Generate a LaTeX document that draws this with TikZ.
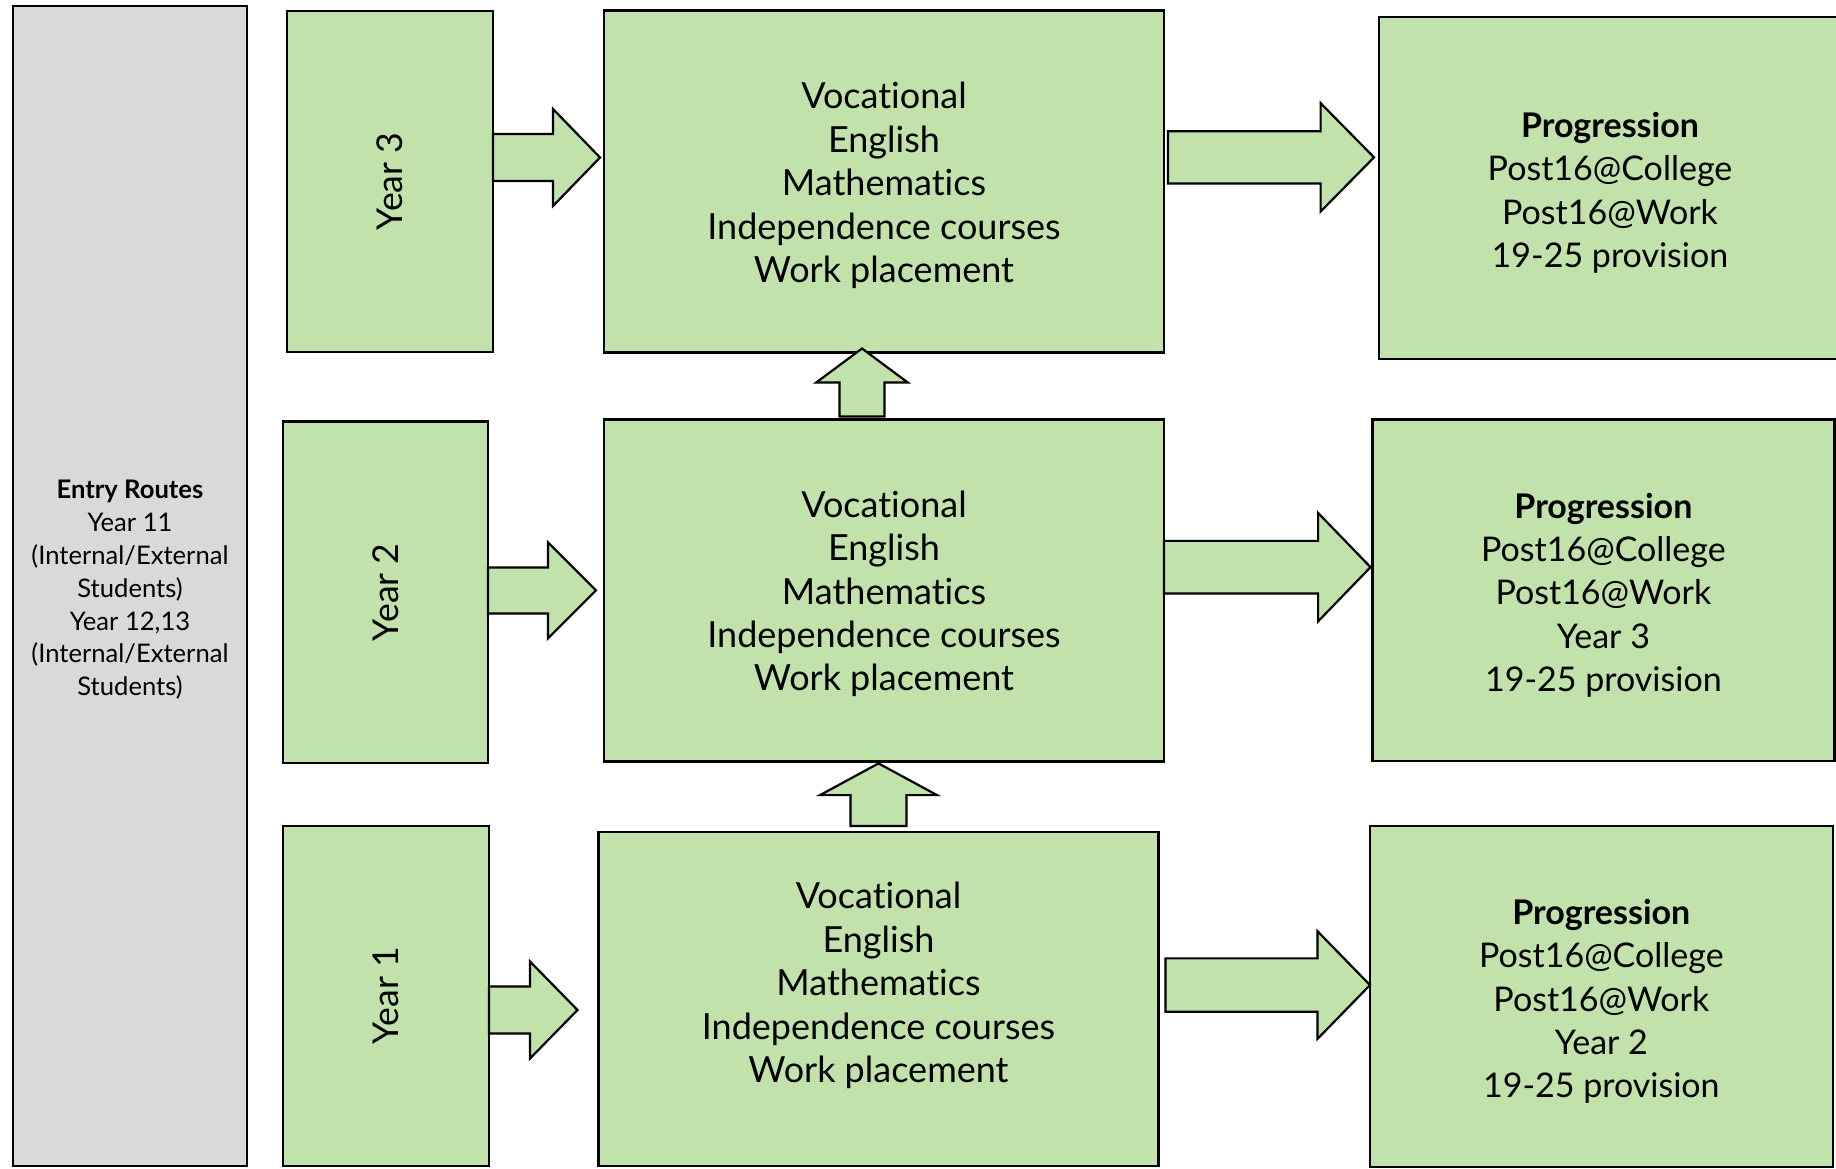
\documentclass[tikz,border=0pt]{standalone}
\usepackage{fontspec}
\setmainfont{Lato}[Ligatures={NoCommon}]
\usepackage{graphicx}
\usetikzlibrary{calc}
\definecolor{boxgreen}{RGB}{193,226,170}
\definecolor{boxgray}{RGB}{217,217,217}
\newcommand{\harrow}[5]{\draw[blk] ($#1+(0,-#3)$) -- ($#2+(-#5,-#3)$) -- ($#2+(-#5,-#4)$) -- #2 -- ($#2+(-#5,#4)$) -- ($#2+(-#5,#3)$) -- ($#1+(0,#3)$) -- cycle;}
\newcommand{\varrow}[5]{\draw[blk] ($#1+(-#3,0)$) -- ($#2+(-#3,#5)$) -- ($#2+(-#4,#5)$) -- #2 -- ($#2+(#4,#5)$) -- ($#2+(#3,#5)$) -- ($#1+(#3,0)$) -- cycle;}
\begin{document}
\begin{tikzpicture}[x=0.5pt,y=-0.5pt,
  gbox/.style={draw=black,line width=1.2pt,fill=boxgreen,inner sep=0pt,outer sep=0pt,align=center},
  ebox/.style={gbox,fill=boxgray},
  blk/.style={draw=black,line width=1.1pt,fill=boxgreen,line join=miter},
  plain/.style={inner sep=0pt,outer sep=0pt,align=center},
  midtext/.style={plain,font=\fontsize{18}{21.7}\selectfont},
  progtext/.style={plain,font=\fontsize{17}{21.7}\selectfont},
  yeartext/.style={font=\fontsize{17.8}{20}\selectfont},
  entrytext/.style={plain,font=\fontsize{12.8}{16.4}\selectfont}]
\useasboundingbox (0,0) rectangle (1836,1168);

% entry routes
\node[ebox,minimum width=117pt,minimum height=580pt] (entry) at (130,586) {};
\node[entrytext] (entryt) at ($(entry.center)+(0,4)$)
  {\textbf{Entry Routes}\\Year 11\\(Internal/External\\Students)\\Year 12,13\\(Internal/External\\Students)};

% year boxes
\node[gbox,yeartext,minimum width=103pt,minimum height=170.5pt] (Y3) at (390,181.5) {\rotatebox{90}{Year 3}};
\node[gbox,yeartext,minimum width=102.5pt,minimum height=170.75pt] (Y2) at (385.5,592.25) {\rotatebox{90}{Year 2}};
\node[gbox,yeartext,minimum width=103pt,minimum height=170pt] (Y1) at (386,996) {\rotatebox{90}{Year 1}};

% middle boxes
\node[gbox,minimum width=280pt,minimum height=171pt] (M3) at (884,181.5) {};
\node[midtext] (M3t) at ($(M3.center)+(0,4)$)
  {Vocational\\English\\Mathematics\\Independence courses\\Work placement};
\node[gbox,minimum width=280pt,minimum height=171pt] (M2) at (884,590.4) {};
\node[midtext] (M2t) at ($(M2.center)+(0,3.5)$)
  {Vocational\\English\\Mathematics\\Independence courses\\Work placement};
\node[gbox,minimum width=280pt,minimum height=167pt] (M1) at (878.5,999) {};
\node[midtext] (M1t) at (878.5,985.5)
  {Vocational\\English\\Mathematics\\Independence courses\\Work placement};

% progression boxes
\node[gbox,minimum width=231pt,minimum height=171.15pt] (P3) at (1610,187.85) {};
\node[progtext] (P3t) at ($(P3.center)+(0,5)$)
  {\textbf{Progression}\\Post16@College\\Post16@Work\\19-25 provision};
\node[gbox,minimum width=230.9pt,minimum height=170.85pt] (P2) at (1603.4,590.15) {};
\node[progtext] (P2t) at ($(P2.center)+(0,5)$)
  {\textbf{Progression}\\Post16@College\\Post16@Work\\Year 3\\19-25 provision};
\node[gbox,minimum width=231.35pt,minimum height=170.35pt] (P1) at (1601.35,996.35) {};
\node[progtext] (P1t) at ($(P1.center)+(0,5)$)
  {\textbf{Progression}\\Post16@College\\Post16@Work\\Year 2\\19-25 provision};

% left arrows
\coordinate (t3) at ($(M3.west)+(-4,-24)$);
\coordinate (s3) at (Y3.east |- t3);
\harrow{(s3)}{(t3)}{23.5}{48.5}{47}
\coordinate (t2) at ($(M2.west)+(-8,0)$);
\coordinate (s2) at (Y2.east |- t2);
\harrow{(s2)}{(t2)}{23}{48}{48}
\coordinate (t1) at ($(M1.west)+(-21,11)$);
\coordinate (s1) at (Y1.east |- t1);
\harrow{(s1)}{(t1)}{23.5}{48.5}{47.5}

% right arrows
\coordinate (tr3) at ($(P3.west)+(-5,-30.5)$);
\coordinate (sr3) at ($(M3.east |- tr3)+(4,0)$);
\harrow{(sr3)}{(tr3)}{26.2}{54.2}{53.4}
\coordinate (tr2) at ($(P2.west)+(-2,-23)$);
\coordinate (sr2) at (M2.east |- tr2);
\harrow{(sr2)}{(tr2)}{26.3}{54.2}{52.4}
\coordinate (tr1) at ($(P1.west)+(0,-11.3)$);
\coordinate (sr1) at ($(M1.east |- tr1)+(7,0)$);
\harrow{(sr1)}{(tr1)}{26.7}{53.8}{52.5}

% up arrows
\coordinate (tu2) at ($(M3.south)+(-22,-4)$);
\coordinate (su2) at ($(M2.north)+(-22,-3)$);
\varrow{(su2)}{(tu2)}{22.5}{45.75}{34}
\coordinate (tu1) at ($(M2.south)+(-5.5,2)$);
\coordinate (su1) at ($(M1.north)+(0,-6)$);
\varrow{(su1)}{(tu1)}{28}{58.5}{31.7}
\end{tikzpicture}
\end{document}
